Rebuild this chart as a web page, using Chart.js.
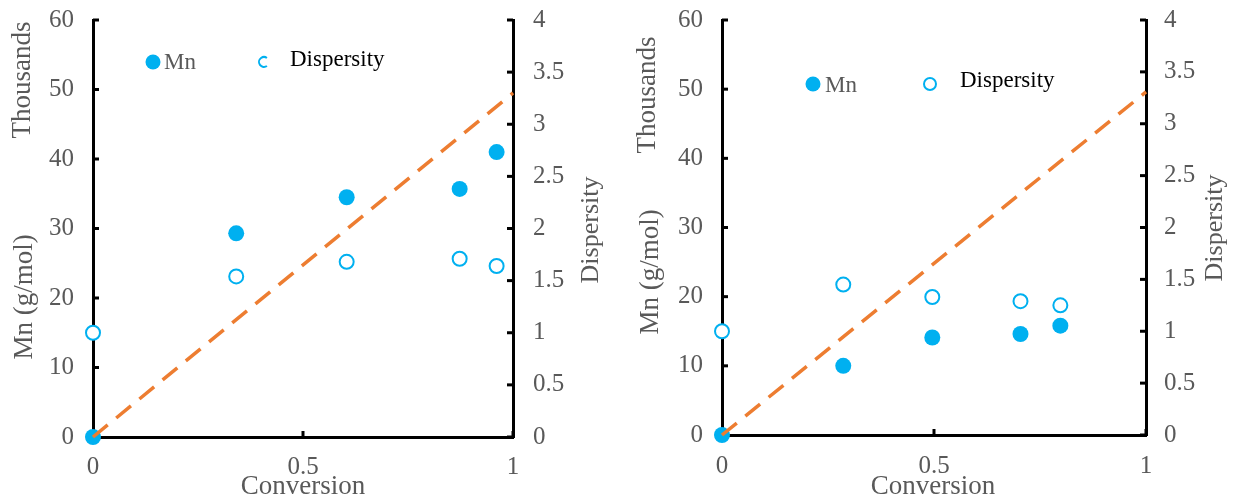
<!DOCTYPE html>
<html><head><meta charset="utf-8">
<script src="https://cdn.jsdelivr.net/npm/chart.js@4/dist/chart.umd.min.js"></script>
<style>
html,body{margin:0;padding:0;background:#fff;width:1235px;height:499px;overflow:hidden}
canvas{position:absolute;top:0}
#c1{left:0}
#c2{left:617px}
</style></head><body>
<canvas id="c1" width="617" height="499"></canvas>
<canvas id="c2" width="618" height="499"></canvas>
<script>
// ---- data ----
const leftConversion = [0, 0.341, 0.604, 0.873, 0.961];
const leftMn = [0, 29.3, 34.5, 35.7, 41.0];
const leftDispersity = [1.0, 1.54, 1.68, 1.71, 1.64];

const rightConversion = [0, 0.286, 0.496, 0.704, 0.798];
const rightMn = [0, 10.0, 14.1, 14.6, 15.8];
const rightDispersity = [1.0, 1.45, 1.33, 1.29, 1.25];

const theoryConversion = [0, 1];
const leftTheoryMn = [0, 49.5];
const rightTheoryMn = [0, 49.6];

const xTicks = [0, 0.5, 1];
const xTickLabels = ['0', '0.5', '1'];
const mnTicks = [0, 10, 20, 30, 40, 50, 60];
const mnTickLabels = ['0', '10', '20', '30', '40', '50', '60'];
const dispTicks = [0, 0.5, 1, 1.5, 2, 2.5, 3, 3.5, 4];
const dispTickLabels = ['0', '0.5', '1', '1.5', '2', '2.5', '3', '3.5', '4'];

const seriesNames = ['Mn', 'Dispersity'];
const xTitle = 'Conversion';
const yUnitTitle = 'Thousands';
const yTitle = 'Mn (g/mol)';
const y2Title = 'Dispersity';

// ---- styles ----
const BLUE = '#00B0F0';
const ORANGE = '#ED7D31';
const GRAY = '#595959';
const FONT = "'Liberation Serif', 'Times New Roman', serif";

function pts(xs, ys) { return xs.map((x, i) => ({ x: x, y: ys[i] })); }

const innerTicks = {
  id: 'innerTicks',
  beforeDatasetsDraw(chart) {
    const { ctx, chartArea: a, scales } = chart;
    const L = 6;
    ctx.save();
    ctx.strokeStyle = '#000';
    ctx.lineWidth = 3;
    scales.x.ticks.forEach(t => {
      const p = scales.x.getPixelForValue(t.value);
      ctx.beginPath(); ctx.moveTo(p, a.bottom); ctx.lineTo(p, a.bottom - L); ctx.stroke();
    });
    scales.y.ticks.forEach(t => {
      const p = scales.y.getPixelForValue(t.value);
      ctx.beginPath(); ctx.moveTo(a.left, p); ctx.lineTo(a.left + L, p); ctx.stroke();
    });
    scales.y2.ticks.forEach(t => {
      const p = scales.y2.getPixelForValue(t.value);
      ctx.beginPath(); ctx.moveTo(a.right, p); ctx.lineTo(a.right - L, p); ctx.stroke();
    });
    ctx.restore();
  }
};

const decor = {
  id: 'decor',
  afterDraw(chart, args, opts) {
    const ctx = chart.ctx;
    (opts.titles || []).forEach(it => {
      ctx.save();
      ctx.translate(it.x, it.y);
      ctx.rotate(it.rot || 0);
      ctx.font = it.size + 'px ' + FONT;
      ctx.fillStyle = GRAY;
      ctx.textAlign = 'center';
      ctx.textBaseline = 'middle';
      ctx.fillText(it.text, 0, 0);
      ctx.restore();
    });
    (opts.legend || []).forEach(it => {
      ctx.save();
      ctx.beginPath();
      if (it.filled) {
        ctx.arc(it.mx, it.my, it.r, 0, Math.PI * 2);
        ctx.fillStyle = BLUE; ctx.fill();
      } else {
        ctx.arc(it.mx, it.my, it.r, it.a0 || 0, it.a1 || Math.PI * 2);
        ctx.strokeStyle = BLUE; ctx.lineWidth = 2; ctx.stroke();
      }
      ctx.font = it.size + 'px ' + FONT;
      ctx.fillStyle = it.color;
      ctx.textAlign = 'left';
      ctx.textBaseline = 'alphabetic';
      ctx.fillText(it.text, it.tx, it.ty);
      ctx.restore();
    });
  }
};

function makeChart(id, conv, mn, disp, theoryMn, geom) {
  const tickFont = { family: FONT, size: 25 };
  const fitV = w => s => { s.width = w; s.paddingTop = 0; s.paddingBottom = 0; s.paddingLeft = 0; s.paddingRight = 0; };
  return new Chart(document.getElementById(id), {
    type: 'scatter',
    data: {
      datasets: [
        {
          label: 'theory',
          data: pts(theoryConversion, theoryMn),
          showLine: true,
          borderColor: ORANGE,
          borderWidth: 3.5,
          borderDash: [19, 11],
          pointRadius: 0,
          yAxisID: 'y',
          clip: false
        },
        {
          label: seriesNames[0],
          data: pts(conv, mn),
          backgroundColor: BLUE,
          borderWidth: 0,
          pointRadius: 8,
          yAxisID: 'y',
          clip: false
        },
        {
          label: seriesNames[1],
          data: pts(conv, disp),
          backgroundColor: '#fff',
          borderColor: BLUE,
          borderWidth: 2,
          pointRadius: 7,
          yAxisID: 'y2',
          clip: false
        }
      ]
    },
    options: {
      responsive: false,
      animation: false,
      devicePixelRatio: 1,
      layout: { padding: { top: geom.top, left: 0, right: 0, bottom: 0 } },
      plugins: {
        legend: { display: false },
        tooltip: { enabled: false },
        decor: { titles: geom.titles, legend: geom.legend }
      },
      scales: {
        x: {
          type: 'linear', min: 0, max: 1,
          afterBuildTicks: s => { s.ticks = xTicks.map(v => ({ value: v })); },
          afterFit: s => { s.height = geom.xh; s.paddingLeft = 0; s.paddingRight = 0; s.paddingTop = 0; s.paddingBottom = 0; },
          ticks: { font: tickFont, color: GRAY, padding: geom.xpad, maxRotation: 0,
                   callback: v => xTickLabels[xTicks.indexOf(v)] },
          grid: { display: true, drawOnChartArea: false, drawTicks: false },
          border: { display: true, color: '#000', width: 3 }
        },
        y: {
          type: 'linear', position: 'left', min: 0, max: 60,
          afterBuildTicks: s => { s.ticks = mnTicks.map(v => ({ value: v })); },
          afterFit: fitV(geom.yw),
          ticks: { font: tickFont, color: GRAY, padding: geom.ypad,
                   callback: v => mnTickLabels[mnTicks.indexOf(v)] },
          grid: { display: true, drawOnChartArea: false, drawTicks: false },
          border: { display: true, color: '#000', width: 3 }
        },
        y2: {
          type: 'linear', position: 'right', min: 0, max: 4,
          afterBuildTicks: s => { s.ticks = dispTicks.map(v => ({ value: v })); },
          afterFit: fitV(geom.y2w),
          ticks: { font: tickFont, color: GRAY, padding: geom.y2pad,
                   callback: v => dispTickLabels[dispTicks.indexOf(v)] },
          grid: { display: true, drawOnChartArea: false, drawTicks: false },
          border: { display: true, color: '#000', width: 3 }
        }
      }
    },
    plugins: [innerTicks, decor]
  });
}

makeChart('c1', leftConversion, leftMn, leftDispersity, leftTheoryMn, {
  top: 20, xh: 62, yw: 93, y2w: 104, xpad: 15, ypad: 19, y2pad: 20,
  titles: [
    { text: yUnitTitle, x: 23, y: 80, rot: -Math.PI / 2, size: 27 },
    { text: yTitle, x: 25, y: 297, rot: -Math.PI / 2, size: 27 },
    { text: y2Title, x: 591, y: 230, rot: -Math.PI / 2, size: 26 },
    { text: xTitle, x: 303, y: 487, rot: 0, size: 27 }
  ],
  legend: [
    { filled: true, mx: 153, my: 62, r: 7.5, text: seriesNames[0], tx: 164, ty: 69, color: GRAY, size: 23 },
    { filled: false, mx: 264, my: 62, r: 5, a0: Math.PI * 0.3, a1: Math.PI * 1.7, text: seriesNames[1], tx: 290, ty: 66, color: '#000', size: 23 }
  ]
});

makeChart('c2', rightConversion, rightMn, rightDispersity, rightTheoryMn, {
  top: 20, xh: 64, yw: 105, y2w: 89, xpad: 16, ypad: 19, y2pad: 18,
  titles: [
    { text: yUnitTitle, x: 31, y: 95, rot: -Math.PI / 2, size: 27 },
    { text: yTitle, x: 34, y: 272, rot: -Math.PI / 2, size: 27 },
    { text: y2Title, x: 598, y: 228, rot: -Math.PI / 2, size: 26 },
    { text: xTitle, x: 316, y: 487, rot: 0, size: 27 }
  ],
  legend: [
    { filled: true, mx: 196, my: 84, r: 7.5, text: seriesNames[0], tx: 208, ty: 92, color: GRAY, size: 23 },
    { filled: false, mx: 313, my: 84, r: 6, text: seriesNames[1], tx: 343, ty: 87, color: '#000', size: 23 }
  ]
});
</script>
</body></html>
